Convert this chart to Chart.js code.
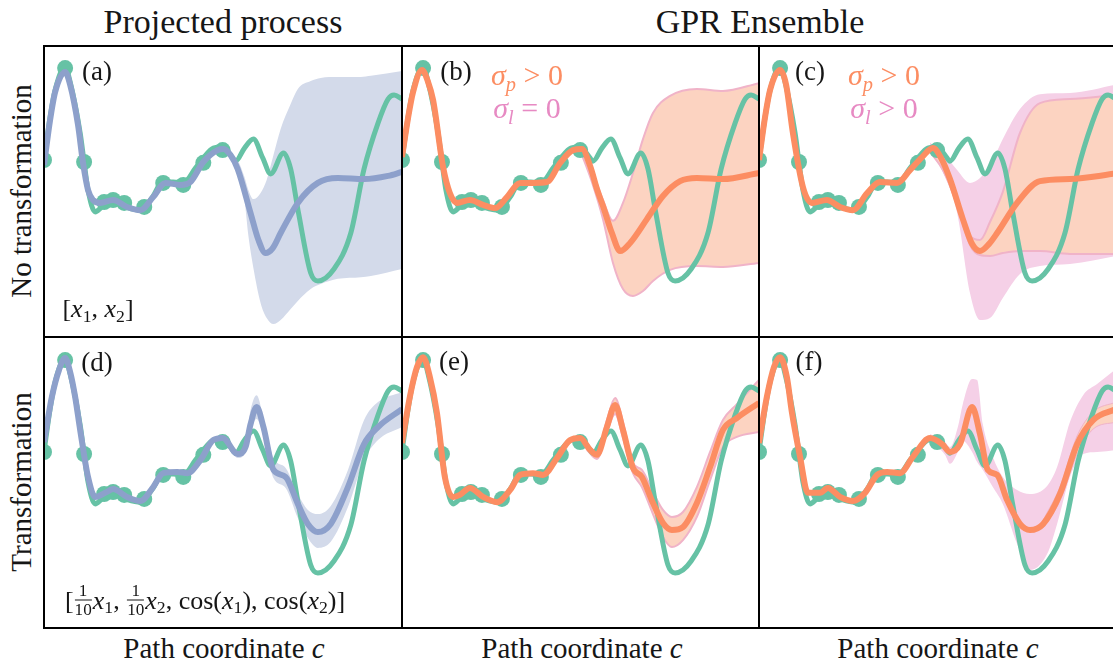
<!DOCTYPE html>
<html>
<head>
<meta charset="utf-8">
<script src="https://cdn.jsdelivr.net/npm/chart.js@4.4.0/dist/chart.umd.min.js"></script>
<style>
html, body { margin: 0; padding: 0; background: #fff; overflow: hidden; }
#fig { position: relative; width: 1113px; height: 662px; font-family: "Liberation Serif", "Times New Roman", "DejaVu Serif", serif; color: #161616; }
#fig canvas { position: absolute; display: block; }
.ln { position: absolute; background: #000; }
.t { position: absolute; white-space: nowrap; transform: translate(-50%, -50%); line-height: 1; }
.rot { transform: translate(-50%, -50%) rotate(-90deg); }
sub { font-size: 0.68em; vertical-align: -0.28em; line-height: 0; }
.frac { display: inline-block; vertical-align: -0.35em; text-align: center; font-size: 0.66em; margin: 0 1px; }
.frac span { display: block; line-height: 1.05; }
.frac span:first-child { border-bottom: 1px solid #161616; }
.or { color: #fc8d62; }
.pk { color: #e78ac3; }
</style>
</head>
<body>
<div id="fig">
  <canvas id="pa" width="358" height="290" style="left:44px;top:46px"></canvas>
  <canvas id="pb" width="357" height="290" style="left:402px;top:46px"></canvas>
  <canvas id="pc" width="357" height="290" style="left:759px;top:46px"></canvas>
  <canvas id="pd" width="358" height="290" style="left:44px;top:338px"></canvas>
  <canvas id="pe" width="357" height="290" style="left:402px;top:338px"></canvas>
  <canvas id="pf" width="357" height="290" style="left:759px;top:338px"></canvas>

  <div class="ln" style="left:43px;top:45px;width:1070px;height:2px"></div>
  <div class="ln" style="left:43px;top:336px;width:1070px;height:2px"></div>
  <div class="ln" style="left:43px;top:627px;width:1070px;height:2px"></div>
  <div class="ln" style="left:43px;top:45px;width:2px;height:584px"></div>
  <div class="ln" style="left:401px;top:45px;width:2px;height:584px"></div>
  <div class="ln" style="left:758px;top:45px;width:2px;height:584px"></div>

  <div class="t" style="left:223px;top:22px;font-size:34px">Projected process</div>
  <div class="t" style="left:760px;top:22px;font-size:34px">GPR Ensemble</div>
  <div class="t rot" style="left:21px;top:191px;font-size:29px">No transformation</div>
  <div class="t rot" style="left:21px;top:482px;font-size:29px">Transformation</div>
  <div class="t" style="left:224px;top:648px;font-size:29px">Path coordinate <i>c</i></div>
  <div class="t" style="left:582px;top:648px;font-size:29px">Path coordinate <i>c</i></div>
  <div class="t" style="left:938px;top:648px;font-size:29px">Path coordinate <i>c</i></div>

  <div class="t" style="left:97px;top:71px;font-size:27px">(a)</div>
  <div class="t" style="left:456px;top:71px;font-size:27px">(b)</div>
  <div class="t" style="left:810px;top:71px;font-size:27px">(c)</div>
  <div class="t" style="left:97px;top:362px;font-size:27px">(d)</div>
  <div class="t" style="left:454px;top:361px;font-size:27px">(e)</div>
  <div class="t" style="left:809px;top:361px;font-size:27px">(f)</div>

  <div class="t or" style="left:527px;top:75px;font-size:30px"><i>σ</i><sub><i>p</i></sub> &gt; 0</div>
  <div class="t pk" style="left:527px;top:108px;font-size:30px"><i>σ</i><sub><i>l</i></sub> = 0</div>
  <div class="t or" style="left:884px;top:75px;font-size:30px"><i>σ</i><sub><i>p</i></sub> &gt; 0</div>
  <div class="t pk" style="left:884px;top:108px;font-size:30px"><i>σ</i><sub><i>l</i></sub> &gt; 0</div>

  <div class="t" style="left:98px;top:309px;font-size:26px">[<i>x</i><sub>1</sub>, <i>x</i><sub>2</sub>]</div>
  <div class="t" style="left:205px;top:600px;font-size:26px">[<span class="frac"><span>1</span><span>10</span></span><i>x</i><sub>1</sub>, <span class="frac"><span>1</span><span>10</span></span><i>x</i><sub>2</sub>, cos(<i>x</i><sub>1</sub>), cos(<i>x</i><sub>2</sub>)]</div>
</div>

<script>
// true profile along the path (same in every panel)
const truthC = [0.000,0.017,0.031,0.059,0.073,0.101,0.112,0.123,0.143,0.162,0.190,0.227,0.269,0.303,0.331,0.361,0.389,0.423,0.445,0.473,0.499,0.521,0.535,0.560,0.585,0.611,0.633,0.669,0.689,0.711,0.745,0.765,0.810,0.857,0.894,0.933,0.961,0.978,1.000];
const truthE = [6.07,7.55,8.48,9.28,8.76,7.00,6.00,5.03,4.28,4.45,4.62,4.45,4.34,4.79,5.31,5.31,5.28,5.79,6.14,6.48,6.52,6.24,6.03,6.48,6.79,6.14,5.59,6.31,5.76,4.24,2.17,1.90,2.31,3.55,5.76,7.34,8.17,8.31,8.17];

// training points
const obsC = [0.000,0.059,0.112,0.168,0.193,0.224,0.280,0.333,0.389,0.445,0.499];
const obsE = [6.07,9.24,6.00,4.62,4.69,4.59,4.45,5.28,5.21,5.97,6.41];

// (a) projected process, no transformation
const meanAC = [0.000,0.017,0.031,0.059,0.073,0.095,0.109,0.123,0.137,0.157,0.193,0.232,0.269,0.305,0.339,0.381,0.409,0.445,0.485,0.501,0.521,0.541,0.577,0.599,0.619,0.639,0.661,0.709,0.765,0.821,0.894,0.961,1.000];
const meanAE = [5.90,7.45,8.41,9.10,8.66,7.28,5.97,5.03,4.69,4.59,4.69,4.45,4.34,4.79,5.28,5.21,5.31,6.00,6.41,6.45,6.24,5.76,4.24,3.31,2.86,3.03,3.55,4.59,5.28,5.45,5.41,5.52,5.66];
const bandAC = [0.504,0.521,0.541,0.560,0.571,0.585,0.605,0.622,0.641,0.661,0.689,0.709,0.745,0.773,0.821,0.885,0.913,1.000];
const bandAHi = [6.48,6.34,6.07,5.48,5.03,4.72,4.93,5.38,6.24,7.14,8.00,8.52,8.79,8.90,8.93,8.93,8.97,9.14];
const bandALo = [6.41,6.14,5.59,4.69,3.45,2.34,1.14,0.62,0.41,0.55,0.93,1.21,1.62,1.79,1.97,2.03,2.07,2.31];

// (b) ensemble, sigma_p > 0, sigma_l = 0
const meanBC = [0.000,0.017,0.031,0.056,0.073,0.087,0.115,0.134,0.154,0.190,0.227,0.261,0.294,0.331,0.367,0.406,0.443,0.479,0.504,0.527,0.546,0.563,0.588,0.611,0.639,0.686,0.731,0.779,0.826,0.899,1.000];
const meanBE = [6.17,7.52,8.41,9.17,8.76,8.14,5.83,4.93,4.59,4.69,4.52,4.41,4.79,5.28,5.28,5.31,5.97,6.41,6.45,5.86,5.07,4.48,3.55,2.93,3.21,4.03,4.83,5.34,5.45,5.41,5.62];
const bandBC = [0.499,0.532,0.563,0.591,0.619,0.647,0.675,0.703,0.751,0.826,0.899,1.000];
const bandBHi = [6.48,5.72,4.69,3.97,4.59,5.62,6.79,7.69,8.28,8.52,8.45,8.72];
const bandBLo = [6.41,5.31,4.03,2.52,1.62,1.38,1.55,1.90,2.28,2.41,2.38,2.52];

// (c) ensemble, sigma_p > 0, sigma_l > 0
const meanCC = [0.000,0.017,0.031,0.059,0.076,0.095,0.123,0.148,0.190,0.227,0.263,0.303,0.339,0.387,0.423,0.457,0.487,0.510,0.535,0.571,0.597,0.619,0.644,0.667,0.723,0.787,0.871,1.000];
const meanCE = [6.07,7.55,8.48,9.17,8.66,7.00,5.14,4.59,4.69,4.45,4.34,4.93,5.31,5.28,5.72,6.17,6.48,6.14,5.41,4.03,3.17,2.93,3.17,3.55,4.59,5.34,5.41,5.60];
const bandCC = [0.479,0.515,0.555,0.591,0.619,0.647,0.683,0.731,0.787,0.871,1.000];
const bandCHi = [6.48,6.05,4.76,3.45,3.31,3.93,4.97,7.00,8.03,8.17,8.31];
const bandCLo = [6.35,5.72,4.52,3.14,2.79,2.76,2.86,2.93,2.93,2.83,2.83];
const wideCHi = [6.66,6.34,5.72,5.28,5.45,5.86,6.79,7.83,8.34,8.38,8.66];
const wideCLo = [6.33,5.66,4.24,1.48,0.55,0.62,1.31,2.14,2.41,2.48,2.76];

// (d) projected process, with transformation
const meanDC = [0.000,0.022,0.042,0.059,0.073,0.087,0.101,0.123,0.143,0.171,0.193,0.232,0.269,0.305,0.333,0.373,0.401,0.437,0.473,0.499,0.541,0.563,0.577,0.594,0.613,0.641,0.675,0.709,0.737,0.765,0.801,0.849,0.894,0.933,1.000];
const meanDE = [6.41,7.97,8.90,9.31,8.83,7.97,6.83,5.21,4.52,4.66,4.79,4.52,4.38,4.86,5.34,5.38,5.34,5.79,6.48,6.55,6.00,6.24,7.03,7.62,6.93,5.45,5.21,4.28,3.59,3.31,3.59,4.86,6.34,6.93,7.55];
const bandDC = [0.518,0.541,0.563,0.577,0.594,0.613,0.641,0.675,0.709,0.737,0.765,0.801,0.849,0.894,0.933,1.000];
const bandDHi = [6.41,6.14,6.41,7.52,8.03,7.24,5.86,5.52,4.62,4.07,3.93,4.21,5.45,7.17,7.79,8.14];
const bandDLo = [6.28,5.86,6.07,6.83,7.21,6.59,5.17,4.83,3.79,3.10,2.76,2.97,4.17,5.79,6.48,6.93];

// (e) ensemble with transformation, sigma_l = 0
const meanEC = [0.000,0.022,0.042,0.059,0.078,0.098,0.120,0.143,0.162,0.190,0.227,0.266,0.303,0.331,0.367,0.395,0.434,0.471,0.499,0.527,0.546,0.574,0.597,0.619,0.647,0.672,0.703,0.731,0.756,0.787,0.826,0.863,0.899,0.938,1.000];
const meanEE = [6.38,7.97,9.00,9.34,8.66,7.41,5.21,4.52,4.59,4.83,4.52,4.34,4.76,5.28,5.34,5.28,5.86,6.48,6.55,6.14,5.97,6.93,7.69,6.83,5.52,5.21,4.31,3.62,3.38,3.48,4.31,5.55,6.83,7.24,7.76];
const bandEC = [0.518,0.546,0.574,0.597,0.619,0.647,0.672,0.703,0.731,0.756,0.787,0.826,0.863,0.899,0.938,1.000];
const bandEHi = [6.34,6.07,7.17,7.93,7.10,5.69,5.45,4.69,4.07,3.83,4.00,4.86,6.07,7.17,7.72,8.55];
const bandELo = [6.14,5.83,6.76,7.38,6.55,5.34,4.86,3.93,3.14,2.79,3.03,3.83,5.10,6.24,6.59,6.76];

// (f) ensemble with transformation, sigma_l > 0
const meanFC = [0.000,0.022,0.042,0.059,0.078,0.092,0.115,0.137,0.171,0.193,0.227,0.263,0.297,0.331,0.359,0.395,0.431,0.479,0.513,0.535,0.563,0.597,0.619,0.641,0.667,0.695,0.731,0.759,0.796,0.843,0.891,0.936,1.000];
const meanFE = [6.38,7.97,9.00,9.34,8.66,7.45,5.90,4.66,4.66,4.83,4.52,4.38,4.66,5.28,5.38,5.34,5.90,6.55,6.34,6.07,6.34,7.62,6.69,5.45,5.28,4.41,3.59,3.38,3.59,4.62,6.34,7.17,7.55];
const bandFC = [0.796,0.843,0.891,0.936,1.000];
const bandFHi = [3.72,4.86,6.62,7.45,7.79];
const bandFLo = [3.45,4.38,6.00,6.86,7.10];
const wideFC = [0.479,0.521,0.535,0.557,0.571,0.597,0.611,0.627,0.655,0.683,0.723,0.759,0.807,0.835,0.871,0.908,0.947,1.000];
const wideFHi = [6.69,6.41,6.24,6.93,7.72,8.59,8.55,7.03,5.90,5.21,4.76,4.62,4.90,5.55,7.10,8.03,8.41,8.93];
const wideFLo = [6.48,5.97,5.66,6.07,6.45,6.07,5.72,5.45,4.86,4.28,2.90,2.00,2.55,3.59,5.21,6.00,6.07,6.14];

const GREEN = '#66c2a5';
const BLUE = '#8da0cb';
const ORANGE = '#fc8d62';
const BLUE_FILL = '#d3daea';
const ORANGE_FILL = '#fcd3c1';
const PINK_FILL = '#f5d0e7';
const PINK_EDGE = '#f0b3c8';

function pts(xs, ys) {
    return xs.map((x, i) => ({ x: x, y: ys[i] }));
}

function drawPanel(id, p) {
    const ds = [];
    ds.push({ data: pts(p.meanC, p.meanE), borderColor: p.color, borderWidth: 6, order: 0 });
    ds.push({ data: pts(truthC, truthE), borderColor: GREEN, borderWidth: 5, order: 1 });
    ds.push({ data: pts(obsC, obsE), showLine: false, pointRadius: 8, pointBackgroundColor: GREEN, pointBorderWidth: 0, order: 2 });
    if (p.band) {
        ds.push({ data: pts(p.band[0], p.band[1]), borderColor: p.edge, borderWidth: p.edgeW, backgroundColor: p.fill, fill: '+1', order: 4 });
        ds.push({ data: pts(p.band[0], p.band[2]), borderColor: p.edge, borderWidth: p.edgeW, order: 3 });
    }
    if (p.wide) {
        ds.push({ data: pts(p.wide[0], p.wide[1]), borderColor: 'rgba(0,0,0,0)', borderWidth: 0, backgroundColor: PINK_FILL, fill: '+1', order: 6 });
        ds.push({ data: pts(p.wide[0], p.wide[2]), borderColor: 'rgba(0,0,0,0)', borderWidth: 0, order: 5 });
    }
    new Chart(document.getElementById(id), {
        type: 'line',
        data: { datasets: ds },
        options: {
            responsive: false,
            animation: false,
            devicePixelRatio: 1,
            events: [],
            layout: { padding: 0, autoPadding: false },
            datasets: { line: { pointRadius: 0, cubicInterpolationMode: 'monotone', fill: false, clip: 0, borderJoinStyle: 'round' } },
            scales: {
                x: { type: 'linear', min: 0, max: 1, display: false },
                y: { min: 0, max: 10, display: false }
            },
            plugins: { legend: { display: false }, tooltip: { enabled: false } }
        }
    });
}

drawPanel('pa', { meanC: meanAC, meanE: meanAE, color: BLUE, band: [bandAC, bandAHi, bandALo], fill: BLUE_FILL, edge: 'rgba(0,0,0,0)', edgeW: 0 });
drawPanel('pb', { meanC: meanBC, meanE: meanBE, color: ORANGE, band: [bandBC, bandBHi, bandBLo], fill: ORANGE_FILL, edge: PINK_EDGE, edgeW: 2 });
drawPanel('pc', { meanC: meanCC, meanE: meanCE, color: ORANGE, band: [bandCC, bandCHi, bandCLo], fill: ORANGE_FILL, edge: PINK_EDGE, edgeW: 2, wide: [bandCC, wideCHi, wideCLo] });
drawPanel('pd', { meanC: meanDC, meanE: meanDE, color: BLUE, band: [bandDC, bandDHi, bandDLo], fill: BLUE_FILL, edge: 'rgba(0,0,0,0)', edgeW: 0 });
drawPanel('pe', { meanC: meanEC, meanE: meanEE, color: ORANGE, band: [bandEC, bandEHi, bandELo], fill: ORANGE_FILL, edge: PINK_EDGE, edgeW: 2 });
drawPanel('pf', { meanC: meanFC, meanE: meanFE, color: ORANGE, band: [bandFC, bandFHi, bandFLo], fill: ORANGE_FILL, edge: PINK_EDGE, edgeW: 1, wide: [wideFC, wideFHi, wideFLo] });
</script>
</body>
</html>
